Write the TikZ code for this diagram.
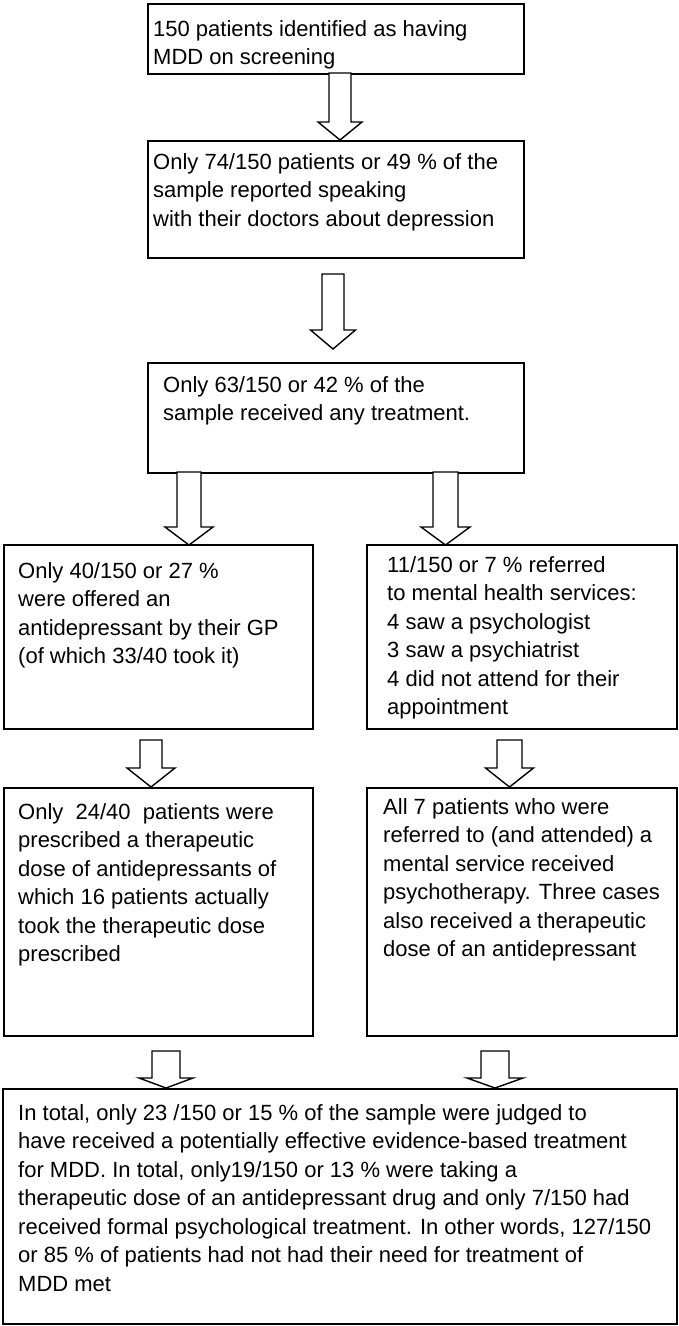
\documentclass[tikz,border=0pt]{standalone}
\usepackage{fontspec}
\setmainfont{Liberation Sans}
\newcommand\blockarrow[6]{%
  \draw[barrow] ({#1-#2},#4) -- ({#1-#2},#5) -- ({#1-#3},#5) -- (#1,#6)
    -- ({#1+#3},#5) -- ({#1+#2},#5) -- ({#1+#2},#4) -- cycle;}
\begin{document}
\begin{tikzpicture}[x=1pt,y=-1pt,
  box/.style={draw, line width=1.6pt, anchor=north west, inner sep=0pt},
  txt/.style={anchor=north west, inner sep=0pt, align=left,
    font=\fontsize{22}{28.5}\selectfont},
  barrow/.style={draw, line width=1.4pt, fill=white, line join=miter}]
\useasboundingbox (0,0) rectangle (678,1326);
% boxes
\node[box, minimum width=376pt, minimum height=70pt] (b1) at (147,3) {};
\node[box, minimum width=376pt, minimum height=117pt] (b2) at (147,140) {};
\node[box, minimum width=376pt, minimum height=110pt] (b3) at (147,362) {};
\node[box, minimum width=309pt, minimum height=184pt] (b4l) at (3,544) {};
\node[box, minimum width=310pt, minimum height=184pt] (b4r) at (366,544) {};
\node[box, minimum width=309pt, minimum height=248pt] (b5l) at (3,787) {};
\node[box, minimum width=310pt, minimum height=248pt] (b5r) at (366,787) {};
\node[box, minimum width=674pt, minimum height=235pt] (b6) at (2,1088) {};
% texts
\node[txt] (t1) at (153,20) {150 patients identified as having\\MDD on screening};
\node[txt] (t2) at (153,153) {Only 74/150 patients or 49 \% of the\\sample reported speaking\\with their doctors about depression};
\node[txt] (t3) at (163,376) {Only 63/150 or 42 \% of the\\sample received any treatment.};
\node[txt] (t4l) at (18,562) {Only 40/150 or 27 \%\\were offered an\\antidepressant by their GP\\(of which 33/40 took it)};
\node[txt] (t4r) at (387,556) {11/150 or 7 \% referred\\to mental health services:\\4 saw a psychologist\\3 saw a psychiatrist\\4 did not attend for their\\appointment};
\node[txt] (t5l) at (18,803) {Only\ \ 24/40\ \ patients were\\prescribed a therapeutic\\dose of antidepressants of\\which 16 patients actually\\took the therapeutic dose\\prescribed};
\node[txt] (t5r) at (383,798) {All 7 patients who were\\referred to (and attended) a\\mental service received\\psychotherapy. Three cases\\also received a therapeutic\\dose of an antidepressant};
\node[txt] (t6) at (18,1104) {In total, only 23 /150 or 15 \% of the sample were judged to\\have received a potentially effective evidence-based treatment\\for MDD. In total, only19/150 or 13 \% were taking a\\therapeutic dose of an antidepressant drug and only 7/150 had\\received formal psychological treatment. In other words, 127/150\\or 85 \% of patients had not had their need for treatment of\\MDD met};
% block arrows
\blockarrow{340}{11}{22}{73}{122}{140}
\blockarrow{333}{11}{22.5}{274}{330}{349}
\blockarrow{189}{12}{24}{472}{527}{545}
\blockarrow{445.5}{12.5}{24.5}{472}{527}{545}
\blockarrow{151}{11}{24}{740}{768}{787}
\blockarrow{509.5}{12.5}{24}{740}{768}{787}
\blockarrow{166}{14}{27}{1051}{1078}{1088}
\blockarrow{495}{14}{28}{1051}{1078}{1088}
\end{tikzpicture}
\end{document}
